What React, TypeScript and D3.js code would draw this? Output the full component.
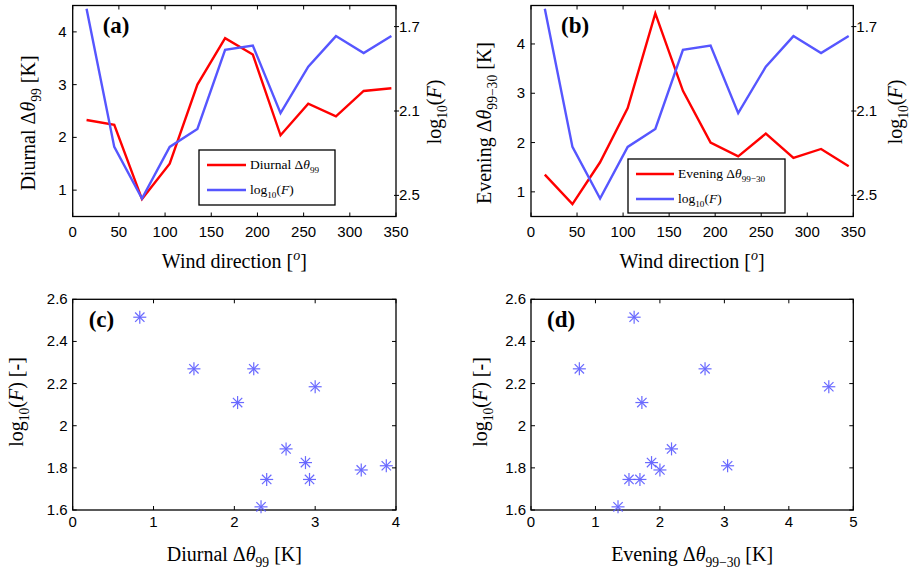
import React from "react";
import * as d3 from "d3";

// ---------- data ----------
const windDir = [15, 45, 75, 105, 135, 165, 195, 225, 255, 285, 315, 345];
const diurnal = [2.33, 2.24, 0.83, 1.5, 3.0, 3.88, 3.57, 2.04, 2.64, 2.4, 2.88, 2.93];
const evening = [1.35, 0.75, 1.6, 2.7, 4.62, 3.05, 2.0, 1.72, 2.18, 1.69, 1.87, 1.52];
const logF = [1.615, 2.27, 2.515, 2.27, 2.185, 1.81, 1.79, 2.11, 1.89, 1.745, 1.825, 1.745];

const windTicks = [0, 50, 100, 150, 200, 250, 300, 350];
const leftTicksTop = [1, 2, 3, 4];
const rightTicksTop = [1.7, 2.1, 2.5];
const scatterYTicks = [1.6, 1.8, 2.0, 2.2, 2.4, 2.6];
const diurnalTicks = [0, 1, 2, 3, 4];
const eveningTicks = [0, 1, 2, 3, 4, 5];

const RED = "#ff0000";
const BLUE = "#5656ff";
const STAR = "#5a5aff";
const SANS = "'Liberation Sans', Arial, sans-serif";
const SERIF = "'Liberation Serif', 'Times New Roman', serif";
const TITLE = 20;

type Seg = { t: string; i?: boolean; sub?: boolean; sup?: boolean };

function MathText({ segs, size }: { segs: Seg[]; size: number }) {
  let cur = 0;
  return (
    <>
      {segs.map((s, k) => {
        const target = s.sub ? size * 0.3 : s.sup ? -size * 0.4 : 0;
        const dy = target - cur;
        cur = target;
        return (
          <tspan
            key={k}
            dy={dy}
            fontStyle={s.i ? "italic" : "normal"}
            fontSize={s.sub || s.sup ? size * 0.68 : size}
          >
            {s.t}
          </tspan>
        );
      })}
    </>
  );
}

const logFSegs: Seg[] = [{ t: "log" }, { t: "10", sub: true }, { t: "(" }, { t: "F", i: true }, { t: ")" }];
const diurnalSegs: Seg[] = [{ t: "Diurnal \u0394" }, { t: "\u03b8", i: true }, { t: "99", sub: true }];
const eveningSegs: Seg[] = [{ t: "Evening \u0394" }, { t: "\u03b8", i: true }, { t: "99\u221230", sub: true }];

function Frame({ l, r, t, b }: { l: number; r: number; t: number; b: number }) {
  return <rect x={l} y={t} width={r - l} height={b - t} fill="none" stroke="#000" strokeWidth={1.3} />;
}

function XTicks({ x, ticks, t, b, labelY }: any) {
  return (
    <g>
      {ticks.map((v: number) => (
        <g key={v}>
          <line x1={x(v)} x2={x(v)} y1={b} y2={b - 4} stroke="#000" />
          <line x1={x(v)} x2={x(v)} y1={t} y2={t + 4} stroke="#000" />
          <text x={x(v)} y={labelY} textAnchor="middle" fontFamily={SANS} fontSize={15}>
            {d3.format("~g")(v)}
          </text>
        </g>
      ))}
    </g>
  );
}

function YTicksLeft({ y, ticks, l, r, labelX, mirror }: any) {
  return (
    <g>
      {ticks.map((v: number) => (
        <g key={v}>
          <line x1={l} x2={l + 4} y1={y(v)} y2={y(v)} stroke="#000" />
          {mirror && <line x1={r} x2={r - 4} y1={y(v)} y2={y(v)} stroke="#000" />}
          <text x={labelX} y={y(v) + 5} textAnchor="end" fontFamily={SANS} fontSize={15}>
            {d3.format("~g")(v)}
          </text>
        </g>
      ))}
    </g>
  );
}

function YTicksRight({ y, ticks, r, labelX }: any) {
  return (
    <g>
      {ticks.map((v: number) => (
        <g key={v}>
          <line x1={r - 2} x2={r + 3} y1={y(v)} y2={y(v)} stroke="#000" />
          <text x={labelX} y={y(v) + 5} textAnchor="start" fontFamily={SANS} fontSize={15}>
            {v.toFixed(1)}
          </text>
        </g>
      ))}
    </g>
  );
}

function Star({ cx, cy }: { cx: number; cy: number }) {
  const r = 6.5;
  const d = r * 0.72;
  return (
    <g stroke={STAR} strokeWidth={1.2} opacity={0.9}>
      <line x1={cx - r} x2={cx + r} y1={cy} y2={cy} />
      <line x1={cx} x2={cx} y1={cy - r} y2={cy + r} />
      <line x1={cx - d} x2={cx + d} y1={cy - d} y2={cy + d} />
      <line x1={cx - d} x2={cx + d} y1={cy + d} y2={cy - d} />
    </g>
  );
}

function LinePanel({ l, r, t, b, leftVals, leftDomain, label, leftLabelSegs, leftLabelX, rightLabelX, legend }: any) {
  const x = d3.scaleLinear().domain([0, 350]).range([l, r]);
  const yL = d3.scaleLinear().domain(leftDomain).range([b, t]);
  const yR = d3.scaleLinear().domain([1.6, 2.6]).range([t, b]);
  const lineL = d3.line<number>().x((_, i) => x(windDir[i])).y((v) => yL(v));
  const lineR = d3.line<number>().x((_, i) => x(windDir[i])).y((v) => yR(v));
  const cy = (t + b) / 2;
  return (
    <g>
      <defs>
        <clipPath id={"clip" + label}>
          <rect x={l} y={t} width={r - l} height={b - t} />
        </clipPath>
      </defs>
      <g clipPath={`url(#clip${label})`}>
        <path d={lineL(leftVals) || ""} fill="none" stroke={RED} strokeWidth={2.4} strokeLinejoin="miter" />
        <path d={lineR(logF) || ""} fill="none" stroke={BLUE} strokeWidth={2.4} />
      </g>
      <Frame l={l} r={r} t={t} b={b} />
      <XTicks x={x} ticks={windTicks} t={t} b={b} labelY={237} />
      <YTicksLeft y={yL} ticks={leftTicksTop} l={l} r={r} labelX={l - 6} />
      <YTicksRight y={yR} ticks={rightTicksTop} r={r} labelX={r + 3} />
      <text x={l + 30} y={33} fontFamily={SERIF} fontWeight="bold" fontSize={23}>
        {label}
      </text>
      <text x={(l + r) / 2} y={268} textAnchor="middle" fontFamily={SERIF} fontSize={TITLE}>
        Wind direction [<tspan fontStyle="italic" fontSize={14} dy={-8}>o</tspan>
        <tspan dy={8}>]</tspan>
      </text>
      <text
        transform={`translate(${leftLabelX},${cy + 12}) rotate(-90)`}
        textAnchor="middle"
        fontFamily={SERIF}
        fontSize={TITLE}
      >
        <MathText segs={[...leftLabelSegs, { t: " [K]" }]} size={TITLE} />
      </text>
      <text
        transform={`translate(${rightLabelX},${112}) rotate(-90)`}
        textAnchor="middle"
        fontFamily={SERIF}
        fontSize={TITLE}
      >
        <MathText segs={logFSegs} size={TITLE} />
      </text>
      {/* legend */}
      <g>
        <rect
          x={legend.x}
          y={legend.y}
          width={legend.w}
          height={legend.h}
          fill="#fff"
          stroke="#000"
          strokeWidth={1.3}
        />
        <line
          x1={legend.x + 8}
          x2={legend.x + 8 + legend.lw}
          y1={legend.y + 15}
          y2={legend.y + 15}
          stroke={RED}
          strokeWidth={2.4}
        />
        <text x={legend.x + 12 + legend.lw} y={legend.y + 19} fontFamily={SERIF} fontSize={13.5}>
          <MathText segs={leftLabelSegs} size={13.5} />
        </text>
        <line
          x1={legend.x + 8}
          x2={legend.x + 8 + legend.lw}
          y1={legend.y + 40}
          y2={legend.y + 40}
          stroke={BLUE}
          strokeWidth={2.4}
        />
        <text x={legend.x + 12 + legend.lw} y={legend.y + 44} fontFamily={SERIF} fontSize={13.5}>
          <MathText segs={logFSegs} size={13.5} />
        </text>
      </g>
    </g>
  );
}

function ScatterPanel({ l, r, t, b, xVals, xTicks, label, xLabelSegs, yLabelX }: any) {
  const x = d3.scaleLinear().domain([0, xTicks[xTicks.length - 1]]).range([l, r]);
  const y = d3.scaleLinear().domain([1.6, 2.6]).range([b, t]);
  return (
    <g>
      <Frame l={l} r={r} t={t} b={b} />
      <XTicks x={x} ticks={xTicks} t={t} b={b} labelY={527} />
      <YTicksLeft y={y} ticks={scatterYTicks} l={l} r={r} labelX={l - 5} mirror />
      {xVals.map((v: number, i: number) => (
        <Star key={i} cx={x(v)} cy={y(logF[i])} />
      ))}
      <text x={l + 16} y={327} fontFamily={SERIF} fontWeight="bold" fontSize={23}>
        {label}
      </text>
      <text x={(l + r) / 2} y={561} textAnchor="middle" fontFamily={SERIF} fontSize={TITLE}>
        <MathText segs={[...xLabelSegs, { t: " [K]" }]} size={TITLE} />
      </text>
      <text
        transform={`translate(${yLabelX},${402}) rotate(-90)`}
        textAnchor="middle"
        fontFamily={SERIF}
        fontSize={TITLE}
      >
        <MathText segs={[...logFSegs, { t: " [-]" }]} size={TITLE} />
      </text>
    </g>
  );
}

export default function App() {
  return (
    <svg
      width={913}
      height={570}
      style={{ position: "absolute", left: 0, top: 0, background: "#fff" }}
    >
      <rect width={913} height={570} fill="#fff" />
      <LinePanel
        l={72.7}
        r={396}
        t={5.5}
        b={216.5}
        leftVals={diurnal}
        leftDomain={[0.5, 4.5]}
        label="(a)"
        leftLabelSegs={diurnalSegs}
        leftLabelX={35}
        rightLabelX={441}
        legend={{ x: 199, y: 150, w: 136, h: 55, lw: 39 }}
      />
      <LinePanel
        l={531}
        r={853.3}
        t={5.5}
        b={216.5}
        leftVals={evening}
        leftDomain={[0.5, 4.78]}
        label="(b)"
        leftLabelSegs={eveningSegs}
        leftLabelX={491}
        rightLabelX={902}
        legend={{ x: 628, y: 159, w: 157, h: 54, lw: 38 }}
      />
      <ScatterPanel
        l={72.7}
        r={396}
        t={299.3}
        b={510}
        xVals={diurnal}
        xTicks={diurnalTicks}
        label="(c)"
        xLabelSegs={diurnalSegs}
        yLabelX={23}
      />
      <ScatterPanel
        l={531}
        r={853.3}
        t={299.3}
        b={510}
        xVals={evening}
        xTicks={eveningTicks}
        label="(d)"
        xLabelSegs={eveningSegs}
        yLabelX={487}
      />
    </svg>
  );
}
